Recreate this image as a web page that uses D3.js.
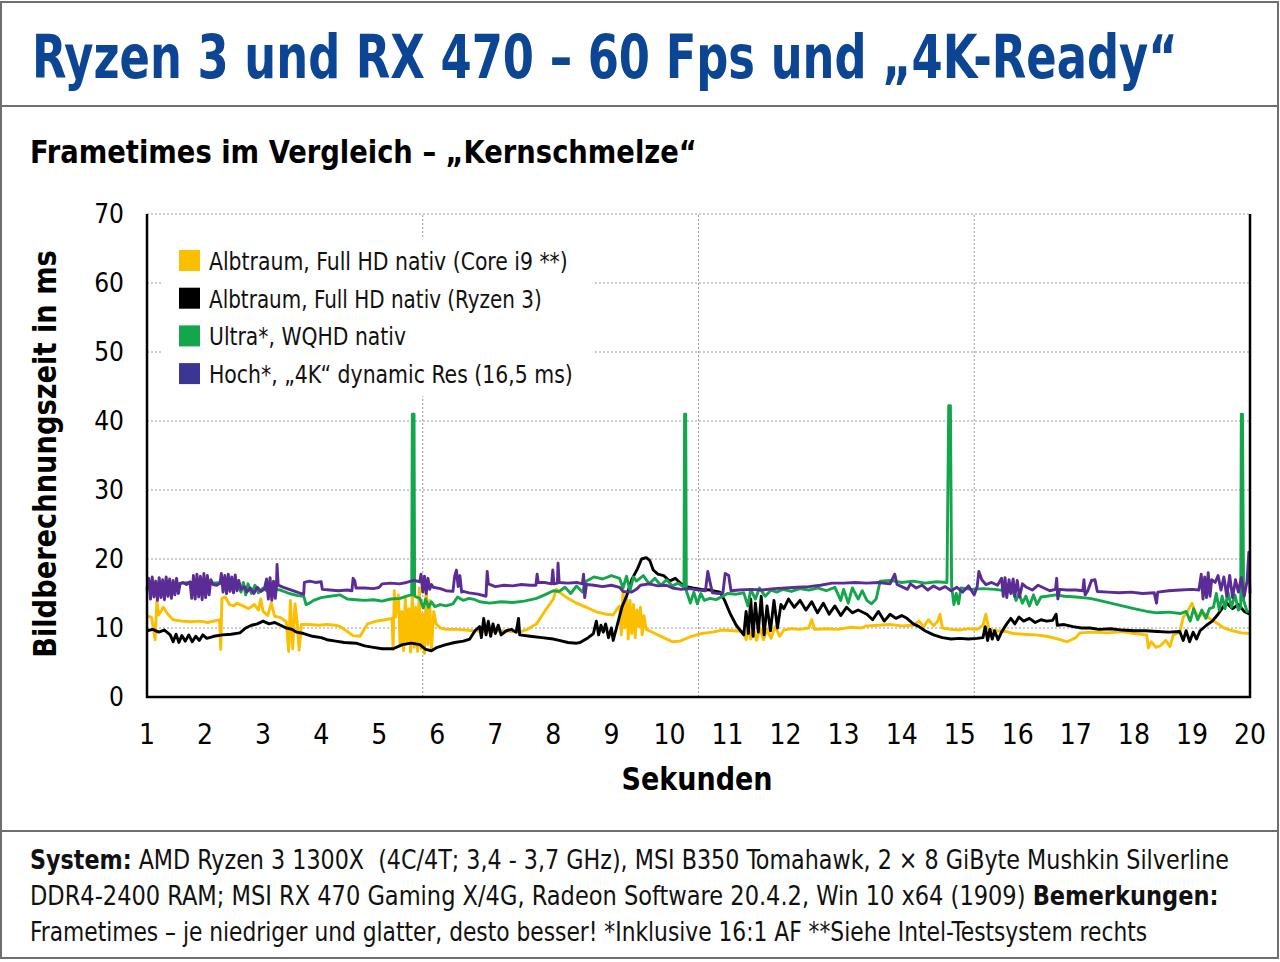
<!DOCTYPE html>
<html>
<head>
<meta charset="utf-8">
<script src="https://cdn.jsdelivr.net/npm/d3@7"></script>
<style>
  body { margin: 0; background: #fff; }
  svg { display: block; font-family: "DejaVu Sans Condensed", "DejaVu Sans", sans-serif; }
</style>
</head>
<body>
<div id="chart"></div>
<script>
// frametime samples [seconds, ms]
var yellowSeries = [[1.00,11.8],[1.08,11.5],[1.14,8.3],[1.17,14.0],[1.20,11.9],[1.28,13.0],[1.36,12.0],[1.45,11.2],[1.60,11.0],[1.75,10.9],[1.90,11.0],[2.05,10.8],[2.20,11.1],[2.25,11.2],[2.27,6.9],[2.29,14.3],[2.35,14.5],[2.42,13.4],[2.50,13.2],[2.55,13.6],[2.65,13.2],[2.75,12.8],[2.85,13.4],[2.92,12.6],[2.96,14.2],[3.00,12.4],[3.08,11.8],[3.14,13.6],[3.20,11.7],[3.30,11.5],[3.40,10.9],[3.44,6.6],[3.47,14.0],[3.51,7.0],[3.55,13.5],[3.59,10.6],[3.62,6.8],[3.66,10.5],[3.80,10.5],[3.95,10.4],[4.10,10.5],[4.25,10.4],[4.33,10.2],[4.45,9.5],[4.55,8.9],[4.67,8.8],[4.80,10.6],[4.95,11.0],[5.10,11.2],[5.22,11.4],[5.24,6.9],[5.26,15.4],[5.28,11.6],[5.33,14.8],[5.36,7.4],[5.39,12.4],[5.42,6.7],[5.45,14.6],[5.48,8.0],[5.51,12.8],[5.54,6.5],[5.57,15.0],[5.60,7.2],[5.63,13.0],[5.66,6.6],[5.69,15.8],[5.72,7.0],[5.75,12.0],[5.78,6.3],[5.81,16.2],[5.84,7.6],[5.87,14.0],[5.90,6.8],[5.94,12.4],[5.98,10.6],[6.05,10.0],[6.16,9.8],[6.35,9.8],[6.62,9.6],[6.85,9.5],[7.10,9.6],[7.42,9.4],[7.55,9.8],[7.71,10.6],[7.85,12.4],[8.00,14.2],[8.05,15.6],[8.10,15.2],[8.25,14.3],[8.40,13.6],[8.57,13.0],[8.75,12.3],[8.90,12.0],[9.03,11.9],[9.10,12.8],[9.14,13.2],[9.17,9.0],[9.20,15.5],[9.23,10.0],[9.26,14.6],[9.29,8.4],[9.32,14.0],[9.35,9.2],[9.38,13.4],[9.41,8.6],[9.44,12.6],[9.47,10.2],[9.50,13.0],[9.53,9.0],[9.56,11.8],[9.60,9.8],[9.75,9.2],[9.90,8.6],[10.05,8.0],[10.18,8.1],[10.35,8.7],[10.55,9.2],[10.75,9.4],[10.90,9.7],[11.10,9.6],[11.28,9.5],[11.32,8.3],[11.36,10.1],[11.40,8.4],[11.45,9.9],[11.50,8.2],[11.56,10.0],[11.62,8.3],[11.68,9.8],[11.75,8.5],[11.82,10.2],[11.90,8.8],[11.97,9.7],[12.10,9.9],[12.25,9.8],[12.40,10.0],[12.45,11.2],[12.50,9.8],[12.70,9.9],[12.90,9.8],[13.10,10.1],[13.30,10.0],[13.40,10.3],[13.60,10.4],[13.80,10.5],[14.00,10.3],[14.20,10.4],[14.30,11.0],[14.38,10.2],[14.46,11.2],[14.55,10.3],[14.62,11.0],[14.66,12.0],[14.70,10.0],[14.85,9.8],[15.00,9.7],[15.15,9.9],[15.30,9.8],[15.40,10.4],[15.45,12.0],[15.50,9.9],[15.60,9.6],[15.80,9.5],[15.92,9.2],[16.10,9.1],[16.30,9.0],[16.50,8.8],[16.70,8.4],[16.85,8.0],[17.00,8.6],[17.07,9.3],[17.30,9.4],[17.55,9.3],[17.80,9.5],[18.00,9.2],[18.22,9.0],[18.25,7.1],[18.30,8.0],[18.38,7.2],[18.45,7.4],[18.55,8.2],[18.62,7.3],[18.68,9.0],[18.79,9.4],[18.85,11.6],[18.92,12.3],[19.00,13.6],[19.05,12.4],[19.12,11.6],[19.20,12.2],[19.30,11.4],[19.37,11.0],[19.45,10.6],[19.55,10.0],[19.70,9.6],[19.85,9.3],[20.00,9.2]];

var blackSeries = [[1.00,9.6],[1.10,9.8],[1.20,9.4],[1.30,9.7],[1.40,9.0],[1.45,8.0],[1.50,9.1],[1.55,7.9],[1.60,8.9],[1.66,8.1],[1.72,9.0],[1.78,8.0],[1.84,8.8],[1.90,8.2],[1.96,9.0],[2.03,8.5],[2.15,8.8],[2.30,9.0],[2.45,9.1],[2.60,9.3],[2.70,10.0],[2.80,10.4],[2.90,10.6],[3.00,11.0],[3.10,10.6],[3.20,10.8],[3.30,10.4],[3.40,10.0],[3.50,9.8],[3.58,9.4],[3.70,9.2],[3.85,8.8],[4.00,8.6],[4.10,8.3],[4.25,8.1],[4.40,7.9],[4.60,7.8],[4.75,7.4],[4.90,7.2],[5.05,7.0],[5.24,7.0],[5.40,7.6],[5.55,7.8],[5.70,7.6],[5.80,6.9],[5.90,6.7],[6.00,7.2],[6.15,7.6],[6.30,7.9],[6.45,8.1],[6.56,8.4],[6.65,9.6],[6.73,10.2],[6.76,8.6],[6.80,11.4],[6.84,9.0],[6.88,11.0],[6.92,8.8],[6.96,10.6],[7.00,9.2],[7.05,10.4],[7.10,9.0],[7.19,9.6],[7.28,9.8],[7.36,9.4],[7.40,11.4],[7.42,9.0],[7.60,8.8],[7.80,8.6],[8.00,8.4],[8.10,8.2],[8.25,7.9],[8.40,7.8],[8.46,7.9],[8.60,8.6],[8.69,9.2],[8.74,11.0],[8.78,9.0],[8.82,10.4],[8.86,9.4],[8.90,10.6],[8.95,8.6],[9.00,10.0],[9.03,8.2],[9.10,10.4],[9.18,13.0],[9.26,14.6],[9.35,17.0],[9.45,18.6],[9.52,20.0],[9.60,20.2],[9.66,19.8],[9.72,18.4],[9.80,17.8],[9.90,17.6],[10.00,16.8],[10.10,17.2],[10.20,16.4],[10.29,16.0],[10.40,15.8],[10.55,15.6],[10.70,15.5],[10.87,15.2],[10.95,14.0],[11.05,12.0],[11.15,10.4],[11.28,9.0],[11.32,12.4],[11.36,9.2],[11.40,14.2],[11.44,8.8],[11.48,13.6],[11.53,9.4],[11.58,14.6],[11.63,9.0],[11.68,13.2],[11.74,9.6],[11.80,14.0],[11.86,10.0],[11.92,13.4],[11.97,12.8],[12.05,14.2],[12.15,13.0],[12.25,14.0],[12.35,12.6],[12.45,13.8],[12.55,12.2],[12.65,13.6],[12.75,12.0],[12.85,13.2],[12.95,11.8],[13.05,13.0],[13.15,12.2],[13.25,12.6],[13.40,12.0],[13.50,11.2],[13.60,12.4],[13.70,11.0],[13.80,12.0],[13.90,11.4],[14.00,11.8],[14.09,11.4],[14.20,10.6],[14.30,10.2],[14.40,9.6],[14.55,9.0],[14.70,8.6],[14.85,8.4],[15.00,8.5],[15.15,8.4],[15.30,8.5],[15.40,8.6],[15.44,10.2],[15.48,8.2],[15.52,9.8],[15.56,8.4],[15.60,9.6],[15.66,8.3],[15.72,9.4],[15.81,10.6],[15.88,11.4],[15.95,10.6],[16.02,11.6],[16.10,11.0],[16.20,11.4],[16.30,10.8],[16.40,11.2],[16.50,11.0],[16.60,11.1],[16.66,12.0],[16.68,10.4],[16.80,10.5],[16.95,10.2],[17.10,10.0],[17.24,10.0],[17.40,9.8],[17.60,9.9],[17.80,9.7],[18.00,9.6],[18.20,9.6],[18.40,9.5],[18.60,9.4],[18.79,9.5],[18.85,8.2],[18.90,9.6],[18.96,8.0],[19.02,9.4],[19.08,8.4],[19.14,9.6],[19.25,10.4],[19.35,11.0],[19.45,12.0],[19.55,13.2],[19.60,13.6],[19.70,12.8],[19.80,13.4],[19.90,12.4],[20.00,12.0]];

var greenSeries = [[1.00,16.0],[1.20,16.2],[1.40,16.1],[1.57,16.5],[1.74,16.6],[2.00,16.4],[2.26,16.6],[2.40,16.9],[2.55,16.2],[2.62,15.2],[2.66,16.6],[2.70,14.8],[2.74,16.4],[2.80,15.0],[2.86,16.2],[2.92,15.1],[3.00,15.8],[3.06,15.4],[3.20,15.6],[3.30,15.5],[3.45,15.0],[3.60,14.7],[3.70,14.6],[3.74,13.4],[3.80,13.6],[3.87,14.0],[4.00,14.4],[4.15,14.6],[4.33,14.8],[4.45,14.2],[4.60,14.1],[4.75,14.0],[4.90,14.1],[5.05,13.9],[5.20,14.2],[5.36,14.3],[5.50,14.7],[5.56,14.8],[5.57,41.0],[5.60,41.0],[5.61,14.6],[5.70,14.3],[5.76,12.9],[5.80,14.2],[5.85,13.0],[5.90,13.8],[5.96,13.1],[6.05,13.4],[6.15,13.2],[6.27,13.5],[6.35,14.5],[6.45,14.0],[6.55,14.3],[6.65,14.1],[6.73,13.8],[6.90,13.6],[7.10,13.8],[7.30,13.7],[7.50,13.9],[7.71,14.3],[7.85,14.8],[8.00,15.4],[8.10,15.3],[8.20,15.9],[8.30,15.0],[8.40,16.1],[8.50,15.2],[8.57,16.8],[8.70,17.4],[8.85,17.1],[9.00,17.6],[9.14,17.2],[9.20,15.8],[9.26,17.5],[9.32,15.4],[9.38,17.4],[9.43,16.8],[9.55,17.6],[9.65,16.4],[9.75,17.2],[9.85,16.2],[9.95,17.0],[10.05,16.1],[10.15,16.5],[10.25,15.9],[10.26,41.0],[10.28,41.0],[10.29,15.4],[10.36,13.6],[10.42,15.2],[10.48,13.5],[10.54,15.0],[10.60,14.0],[10.70,14.3],[10.80,14.1],[10.87,14.4],[11.00,15.0],[11.15,14.9],[11.28,15.1],[11.35,13.2],[11.40,15.6],[11.48,14.2],[11.55,15.8],[11.65,14.6],[11.75,15.5],[11.85,15.2],[11.95,15.6],[12.10,15.3],[12.25,15.7],[12.40,15.5],[12.55,15.8],[12.70,15.4],[12.85,15.9],[12.95,14.0],[13.00,15.6],[13.08,13.6],[13.15,15.8],[13.25,14.2],[13.32,15.4],[13.40,14.0],[13.48,13.5],[13.56,14.2],[13.63,16.8],[13.80,16.9],[14.00,16.6],[14.20,16.8],[14.40,16.5],[14.60,16.7],[14.78,16.6],[14.81,42.2],[14.84,42.2],[14.86,16.0],[14.90,13.4],[14.94,15.0],[14.98,13.5],[15.02,15.8],[15.20,15.6],[15.40,15.7],[15.60,15.6],[15.80,15.4],[15.92,15.2],[15.97,14.0],[16.02,15.0],[16.08,13.6],[16.14,14.6],[16.20,13.2],[16.27,14.8],[16.33,13.4],[16.40,14.5],[16.50,14.6],[16.65,14.8],[16.80,14.6],[17.00,14.5],[17.24,14.3],[17.40,14.0],[17.60,13.6],[17.80,13.2],[18.00,12.8],[18.22,12.4],[18.40,12.2],[18.60,12.3],[18.80,12.1],[18.90,12.4],[18.97,11.0],[19.03,12.8],[19.10,11.2],[19.17,12.6],[19.24,11.4],[19.30,12.8],[19.37,13.0],[19.42,15.0],[19.47,12.6],[19.52,14.6],[19.57,12.8],[19.62,15.2],[19.68,13.0],[19.74,14.8],[19.80,12.6],[19.84,13.0],[19.85,41.0],[19.87,41.0],[19.89,14.0],[19.95,12.4],[20.00,12.3]];

var purpleSeries = [[1.00,15.5],[1.03,17.2],[1.06,14.2],[1.09,17.4],[1.12,14.5],[1.15,16.8],[1.18,14.0],[1.21,17.3],[1.24,14.4],[1.27,17.0],[1.30,14.1],[1.33,17.4],[1.36,14.6],[1.39,17.1],[1.42,14.3],[1.45,16.9],[1.48,14.8],[1.51,17.2],[1.54,15.0],[1.57,16.4],[1.62,16.6],[1.68,16.3],[1.74,16.7],[1.77,14.3],[1.80,17.6],[1.83,14.2],[1.86,17.8],[1.89,14.5],[1.92,17.5],[1.95,14.1],[1.98,17.9],[2.01,14.4],[2.04,17.6],[2.07,14.8],[2.10,17.0],[2.14,16.3],[2.20,16.2],[2.26,16.5],[2.28,17.9],[2.31,15.2],[2.34,17.6],[2.37,15.0],[2.40,17.8],[2.43,15.3],[2.46,17.4],[2.49,15.1],[2.52,17.7],[2.55,15.4],[2.58,16.9],[2.62,15.6],[2.68,16.0],[2.72,15.2],[2.78,15.8],[2.84,15.0],[2.90,15.9],[2.96,15.3],[3.02,15.6],[3.06,17.1],[3.09,14.2],[3.12,17.3],[3.15,14.0],[3.18,16.8],[3.21,14.3],[3.23,16.0],[3.24,19.2],[3.26,16.2],[3.35,15.9],[3.45,15.6],[3.55,15.3],[3.65,15.0],[3.70,14.9],[3.71,16.6],[3.80,16.8],[3.90,16.6],[4.00,16.7],[4.02,15.6],[4.15,15.5],[4.30,15.4],[4.45,15.5],[4.53,15.4],[4.55,17.2],[4.58,16.8],[4.60,15.8],[4.75,15.8],[4.90,15.7],[5.00,15.9],[5.05,16.4],[5.20,16.5],[5.35,16.4],[5.47,16.6],[5.60,16.9],[5.70,16.7],[5.72,17.8],[5.75,15.2],[5.78,17.5],[5.81,15.0],[5.84,17.2],[5.87,15.6],[5.90,16.3],[5.93,15.9],[6.05,15.7],[6.15,15.4],[6.27,15.3],[6.30,17.5],[6.33,18.4],[6.36,16.0],[6.39,17.6],[6.42,15.2],[6.45,15.3],[6.55,15.1],[6.70,14.9],[6.84,14.6],[6.86,18.2],[6.88,16.4],[7.00,16.0],[7.15,16.2],[7.30,16.1],[7.45,16.3],[7.60,16.2],[7.70,16.2],[7.72,17.8],[7.74,16.6],[7.85,16.6],[7.97,16.4],[7.99,18.4],[8.01,16.4],[8.07,16.5],[8.08,19.4],[8.10,16.6],[8.25,16.5],[8.40,16.6],[8.50,16.4],[8.52,17.8],[8.54,14.4],[8.57,16.3],[8.70,16.2],[8.85,16.0],[9.00,16.2],[9.14,15.9],[9.20,15.3],[9.35,15.2],[9.43,15.6],[9.50,16.2],[9.65,16.4],[9.80,16.1],[9.95,16.2],[10.05,15.8],[10.20,15.6],[10.35,15.7],[10.50,15.5],[10.62,15.4],[10.66,18.2],[10.70,16.6],[10.74,15.1],[10.85,15.0],[10.92,15.1],[10.96,17.9],[11.02,17.6],[11.06,15.4],[11.20,15.5],[11.40,15.6],[11.60,15.5],[11.80,15.7],[12.00,15.8],[12.20,15.9],[12.40,16.0],[12.60,16.2],[12.80,16.5],[13.00,16.5],[13.20,16.6],[13.40,16.5],[13.60,16.6],[13.80,16.4],[13.88,17.8],[13.92,16.3],[14.00,16.0],[14.10,15.6],[14.15,16.4],[14.25,15.8],[14.35,16.2],[14.45,15.5],[14.55,16.1],[14.65,15.6],[14.75,16.0],[14.85,15.4],[14.95,15.9],[15.05,15.2],[15.15,16.1],[15.25,14.8],[15.30,16.0],[15.33,18.2],[15.38,17.0],[15.45,16.3],[15.55,16.6],[15.65,16.2],[15.72,17.2],[15.75,14.6],[15.78,17.3],[15.81,14.4],[15.85,17.0],[15.88,15.0],[15.92,17.1],[15.95,14.6],[15.99,16.9],[16.03,14.5],[16.08,16.4],[16.15,15.9],[16.25,15.5],[16.35,16.2],[16.45,15.8],[16.55,15.4],[16.65,15.6],[16.67,17.2],[16.69,14.2],[16.72,15.6],[16.85,15.5],[17.00,15.5],[17.12,15.4],[17.14,17.0],[17.16,14.8],[17.20,15.3],[17.27,16.9],[17.33,17.0],[17.37,15.3],[17.55,15.2],[17.75,15.1],[17.95,15.2],[18.15,15.0],[18.35,15.1],[18.39,13.6],[18.41,15.2],[18.60,15.4],[18.80,15.5],[19.00,15.6],[19.12,15.5],[19.16,17.8],[19.19,14.2],[19.22,17.4],[19.25,14.4],[19.28,18.0],[19.31,14.6],[19.34,17.0],[19.40,16.6],[19.45,17.6],[19.50,15.5],[19.55,17.4],[19.60,14.6],[19.65,17.6],[19.70,14.4],[19.75,17.0],[19.80,15.2],[19.85,17.3],[19.90,14.6],[19.95,16.8],[19.98,21.0],[20.00,15.0]];

var seriesNames = ["Albtraum, Full HD nativ (Core i9 **)", "Albtraum, Full HD nativ (Ryzen 3)", "Ultra*, WQHD nativ", "Hoch*, \u201E4K\u201C dynamic Res (16,5 ms)"];
var seriesColors = ["#fbbf00", "#000000", "#13a64b", "#5c2c96"];
var legendColors = ["#fbbf00", "#000000", "#13a64b", "#3b3593"];
var xTicks = [1,2,3,4,5,6,7,8,9,10,11,12,13,14,15,16,17,18,19,20];
var yTicks = [0,10,20,30,40,50,60,70];

function fitWidth(sel, x, y, target) {
    var w = sel.node().getComputedTextLength();
    sel.attr("transform", "translate(" + x + "," + y + ") scale(" + (target / w) + ",1)");
}

function init() {
    var W = 1280, H = 962;
    var svg = d3.select("#chart").append("svg")
        .attr("width", W).attr("height", H);

    // frame
    svg.append("rect").attr("x", 1).attr("y", 2).attr("width", 1277).attr("height", 956)
        .attr("fill", "none").attr("stroke", "#6e6e6e").attr("stroke-width", 2);
    svg.append("line").attr("x1", 1).attr("x2", 1278).attr("y1", 106).attr("y2", 106)
        .attr("stroke", "#6e6e6e").attr("stroke-width", 2);
    svg.append("line").attr("x1", 1).attr("x2", 1278).attr("y1", 831).attr("y2", 831)
        .attr("stroke", "#6e6e6e").attr("stroke-width", 2);

    // title + subtitle
    var title = svg.append("text").attr("font-size", 60).attr("font-weight", "bold")
        .attr("fill", "#0b4593").text("Ryzen 3 und RX 470 \u2013 60 Fps und \u201E4K-Ready\u201C");
    fitWidth(title, 32, 78, 1146);
    var sub = svg.append("text").attr("font-size", 32).attr("font-weight", "bold")
        .attr("fill", "#000").text("Frametimes im Vergleich \u2013 \u201EKernschmelze\u201C");
    fitWidth(sub, 30, 163, 667);

    var x = d3.scaleLinear().domain([1, 20]).range([147, 1250]);
    var y = d3.scaleLinear().domain([0, 70]).range([697, 214]);

    // grid
    svg.append("g").selectAll("line").data(yTicks.slice(1)).enter().append("line")
        .attr("x1", x(1)).attr("x2", x(20))
        .attr("y1", function(d) { return y(d); }).attr("y2", function(d) { return y(d); })
        .attr("stroke", "#9a9a9a").attr("stroke-width", 1).attr("stroke-dasharray", "2,2");
    svg.append("g").selectAll("line").data([5.75, 10.5, 15.25]).enter().append("line")
        .attr("x1", function(d) { return x(d); }).attr("x2", function(d) { return x(d); })
        .attr("y1", y(0)).attr("y2", y(70))
        .attr("stroke", "#9a9a9a").attr("stroke-width", 1).attr("stroke-dasharray", "2,2");

    // legend background hides the grid
    svg.append("rect").attr("x", 163).attr("y", 238).attr("width", 430).attr("height", 158).attr("fill", "#fff");

    // lines
    var line = d3.line()
        .x(function(d) { return x(d[0]); })
        .y(function(d) { return y(d[1]); });
    var all = [yellowSeries, blackSeries, greenSeries, purpleSeries];
    svg.append("g").selectAll("path").data(all).enter().append("path")
        .attr("d", line)
        .attr("fill", "none")
        .attr("stroke", function(d, i) { return seriesColors[i]; })
        .attr("stroke-width", 2.9)
        .attr("stroke-linejoin", "round");

    // axes frame
    svg.append("line").attr("x1", x(1)).attr("x2", x(1)).attr("y1", y(70)).attr("y2", y(0) + 1)
        .attr("stroke", "#000").attr("stroke-width", 2.5);
    svg.append("line").attr("x1", x(20)).attr("x2", x(20)).attr("y1", y(70)).attr("y2", y(0) + 1)
        .attr("stroke", "#000").attr("stroke-width", 2.5);
    svg.append("line").attr("x1", x(1) - 1).attr("x2", x(20) + 1).attr("y1", y(0)).attr("y2", y(0))
        .attr("stroke", "#000").attr("stroke-width", 2.5);

    // tick labels
    svg.append("g").selectAll("text").data(yTicks).enter().append("text")
        .attr("x", 124).attr("y", function(d) { return y(d) + 9; })
        .attr("text-anchor", "end").attr("font-size", 26).attr("fill", "#000")
        .text(function(d) { return d; });
    svg.append("g").selectAll("text").data(xTicks).enter().append("text")
        .attr("x", function(d) { return x(d); }).attr("y", 744)
        .attr("text-anchor", "middle").attr("font-size", 28).attr("fill", "#000")
        .text(function(d) { return d; });

    // axis titles
    var yt = svg.append("text").attr("font-size", 32).attr("font-weight", "bold")
        .attr("text-anchor", "middle").text("Bildberechnungszeit in ms");
    var ytw = yt.node().getComputedTextLength();
    yt.attr("transform", "translate(56,454) rotate(-90) scale(" + (408 / ytw) + ",1)");
    var xt = svg.append("text").attr("font-size", 32).attr("font-weight", "bold")
        .attr("text-anchor", "middle").text("Sekunden");
    var xtw = xt.node().getComputedTextLength();
    xt.attr("transform", "translate(697,790) scale(" + (151 / xtw) + ",1)");

    // legend
    var legendW = [359, 333, 197, 364];
    var lg = svg.append("g").selectAll("g").data(seriesNames).enter().append("g");
    lg.append("rect")
        .attr("x", 179).attr("y", function(d, i) { return 250 + i * 37.7; })
        .attr("width", 21).attr("height", 21)
        .attr("fill", function(d, i) { return legendColors[i]; });
    lg.append("text").attr("font-size", 25).attr("fill", "#111")
        .text(function(d) { return d; })
        .each(function(d, i) { fitWidth(d3.select(this), 209, 270 + i * 37.7, legendW[i]); });

    // footer
    var footLines = [
        [["System:", true], [" AMD Ryzen 3 1300X  (4C/4T; 3,4 - 3,7 GHz), MSI B350 Tomahawk, 2 \u00D7 8 GiByte Mushkin Silverline", false]],
        [["DDR4-2400 RAM; MSI RX 470 Gaming X/4G, Radeon Software 20.4.2, Win 10 x64 (1909) ", false], ["Bemerkungen:", true]],
        [["Frametimes \u2013 je niedriger und glatter, desto besser! *Inklusive 16:1 AF **Siehe Intel-Testsystem rechts", false]]
    ];
    var footW = [1200, 1189, 1118];
    footLines.forEach(function(parts, i) {
        var t = svg.append("text").attr("font-size", 27).attr("fill", "#111")
            .attr("xml:space", "preserve");
        parts.forEach(function(p) {
            t.append("tspan").attr("font-weight", p[1] ? "bold" : "normal").text(p[0]);
        });
        fitWidth(t, 30, 869 + i * 36, footW[i]);
    });
}

window.onload = init;
</script>
</body>
</html>
